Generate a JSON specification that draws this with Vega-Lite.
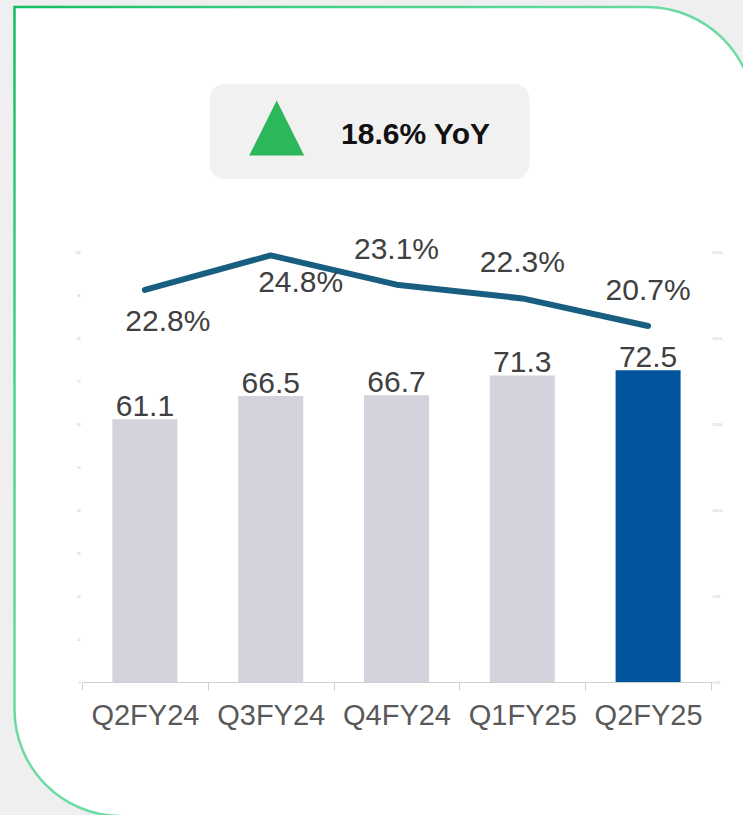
{
  "$schema": "https://vega.github.io/schema/vega-lite/v6.json",
  "width": 629,
  "height": 430,
  "autosize": "none",
  "padding": {"left": 82, "top": 252, "right": 32, "bottom": 133},
  "background": "#efefef",
  "config": {
    "view": {"stroke": null},
    "font": "Liberation Sans",
    "axis": {"grid": false, "zindex": 1}
  },
  "datasets": {
    "quarters": [
      {"q": "Q2FY24", "revenue": 61.1, "margin": 0.228},
      {"q": "Q3FY24", "revenue": 66.5, "margin": 0.248},
      {"q": "Q4FY24", "revenue": 66.7, "margin": 0.231},
      {"q": "Q1FY25", "revenue": 71.3, "margin": 0.223},
      {"q": "Q2FY25", "revenue": 72.5, "margin": 0.207}
    ],
    "badge": [{"yoy": "18.6% YoY"}],
    "card": [{"part": "card"}]
  },
  "layer": [
    {
      "data": {"name": "quarters"},
      "layer": [
        {
          "data": {"name": "card"},
          "mark": {
            "type": "rect",
            "width": 740,
            "xOffset": -12,
            "fill": "#ffffff",
            "stroke": {
              "gradient": "linear",
              "x1": 0, "y1": 0, "x2": 1, "y2": 1,
              "stops": [
                {"offset": 0, "color": "#12be5f"},
                {"offset": 0.25, "color": "#4cd48e"},
                {"offset": 0.45, "color": "#6adba2"},
                {"offset": 1, "color": "#80e1b3"}
              ]
            },
            "strokeWidth": 2.5,
            "cornerRadiusTopRight": 108,
            "cornerRadiusBottomLeft": 107,
            "clip": false
          },
          "encoding": {
            "x": {"datum": "Q4FY24", "type": "nominal"},
            "y": {"datum": 156.98, "type": "quantitative"},
            "y2": {"datum": -31.2}
          }
        },
        {
          "mark": {"type": "bar", "width": 65},
          "encoding": {
            "x": {
              "field": "q", "type": "nominal", "sort": null,
              "scale": {
                "domain": ["Q2FY24", "Q3FY24", "Q4FY24", "Q1FY25", "Q2FY25"],
                "paddingInner": 0, "paddingOuter": 0
              },
              "axis": {
                "title": null, "orient": "bottom",
                "labelAngle": 0, "labelAlign": "center", "labelFontSize": 29, "labelColor": "#595959",
                "labelPadding": 25, "tickSize": 8, "tickBand": "extent",
                "domainColor": "#d0d0d0", "tickColor": "#d0d0d0",
                "domainWidth": 1, "tickWidth": 1, "zindex": 1
              }
            },
            "y": {
              "field": "revenue", "type": "quantitative",
              "scale": {"domain": [0, 100], "nice": false},
              "axis": {
                "title": null, "orient": "left",
                "values": [0, 10, 20, 30, 40, 50, 60, 70, 80, 90, 100],
                "labelFontSize": 3, "labelColor": "#b8b8b8", "labelPadding": 2,
                "domain": false, "ticks": false, "zindex": 1
              }
            },
            "color": {
              "condition": {"test": "datum.q === 'Q2FY25'", "value": "#02559c"},
              "value": "#d2d3dd"
            }
          }
        },
        {
          "mark": {"type": "text", "fontSize": 30, "color": "#404040", "baseline": "alphabetic", "align": "center", "dy": -3},
          "encoding": {
            "x": {"field": "q", "type": "nominal", "sort": null},
            "y": {"field": "revenue", "type": "quantitative"},
            "text": {"field": "revenue", "type": "quantitative", "format": ".1f"}
          }
        },
        {
          "data": {"name": "badge"},
          "mark": {"type": "rect", "width": 320, "xOffset": -27, "cornerRadius": 15, "color": "#f1f1f1"},
          "encoding": {
            "x": {"datum": "Q4FY24", "type": "nominal"},
            "y": {"datum": 139.07, "type": "quantitative"},
            "y2": {"datum": 116.98}
          }
        },
        {
          "data": {"name": "badge"},
          "mark": {"type": "point", "shape": "M0,-1L1,1L-1,1Z", "size": 3025, "filled": true, "opacity": 1, "color": "#2db75b", "xOffset": 6},
          "encoding": {
            "x": {"datum": "Q3FY24", "type": "nominal"},
            "y": {"datum": 128.84, "type": "quantitative"}
          }
        },
        {
          "data": {"name": "badge"},
          "mark": {"type": "text", "fontSize": 30, "fontWeight": "bold", "color": "#111111", "baseline": "middle", "align": "center", "dx": 19},
          "encoding": {
            "x": {"datum": "Q4FY24", "type": "nominal"},
            "y": {"datum": 127.21, "type": "quantitative"},
            "text": {"field": "yoy", "type": "nominal"}
          }
        }
      ]
    },
    {
      "data": {"name": "quarters"},
      "layer": [
        {
          "mark": {"type": "line", "color": "#175e80", "strokeWidth": 6, "strokeCap": "round", "strokeJoin": "round"},
          "encoding": {
            "x": {"field": "q", "type": "nominal", "sort": null},
            "y": {
              "field": "margin", "type": "quantitative",
              "scale": {"domain": [0, 0.25], "nice": false},
              "axis": {
                "title": null, "orient": "right",
                "values": [0, 0.05, 0.1, 0.15, 0.2, 0.25], "format": ".1%",
                "labelFontSize": 3.5, "labelColor": "#b8b8b8", "labelPadding": 1,
                "domain": false, "ticks": false, "zindex": 1
              }
            }
          }
        },
        {
          "transform": [{"filter": "datum.q === 'Q4FY24' || datum.q === 'Q1FY25' || datum.q === 'Q2FY25'"}],
          "mark": {"type": "text", "fontSize": 30, "color": "#404040", "baseline": "middle", "align": "center", "dy": -35},
          "encoding": {
            "x": {"field": "q", "type": "nominal", "sort": null},
            "y": {"field": "margin", "type": "quantitative"},
            "text": {"field": "margin", "type": "quantitative", "format": ".1%"}
          }
        },
        {
          "transform": [{"filter": "datum.q === 'Q2FY24'"}],
          "mark": {"type": "text", "fontSize": 30, "color": "#404040", "baseline": "middle", "align": "center", "dy": 32, "dx": 23},
          "encoding": {
            "x": {"field": "q", "type": "nominal", "sort": null},
            "y": {"field": "margin", "type": "quantitative"},
            "text": {"field": "margin", "type": "quantitative", "format": ".1%"}
          }
        },
        {
          "transform": [{"filter": "datum.q === 'Q3FY24'"}],
          "mark": {"type": "text", "fontSize": 30, "color": "#404040", "baseline": "middle", "align": "center", "dy": 28, "dx": 30},
          "encoding": {
            "x": {"field": "q", "type": "nominal", "sort": null},
            "y": {"field": "margin", "type": "quantitative"},
            "text": {"field": "margin", "type": "quantitative", "format": ".1%"}
          }
        }
      ]
    }
  ],
  "resolve": {"scale": {"y": "independent"}, "axis": {"y": "independent"}}
}
